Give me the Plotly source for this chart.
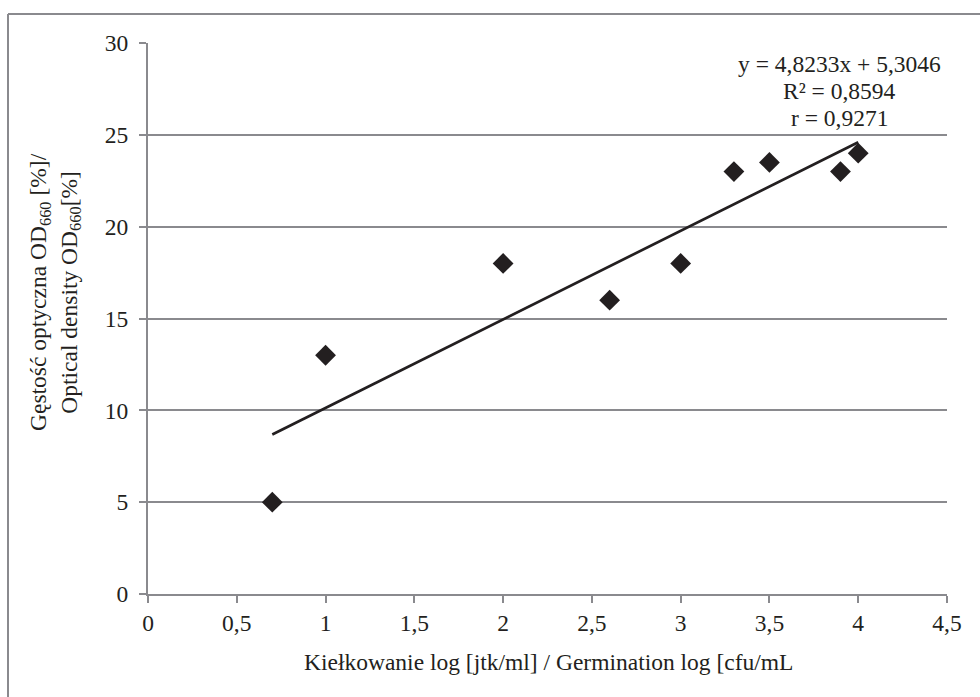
import plotly.graph_objects as go

# Germination (log cfu/mL) vs optical density OD660 (%)
germination_log = [0.7, 1.0, 2.0, 2.6, 3.0, 3.3, 3.5, 3.9, 4.0]
optical_density = [5, 13, 18, 16, 18, 23, 23.5, 23, 24]

# Linear fit reported on the chart
slope = 4.8233
intercept = 5.3046
r_squared = 0.8594
r_value = 0.9271

x_ticks = [0, 0.5, 1, 1.5, 2, 2.5, 3, 3.5, 4, 4.5]
x_tick_labels = ["0", "0,5", "1", "1,5", "2", "2,5", "3", "3,5", "4", "4,5"]
y_ticks = [0, 5, 10, 15, 20, 25, 30]

FONT = "Times New Roman, Liberation Serif, DejaVu Serif, serif"
GRID = "#8a8a8e"
INK = "#231f20"
FS = 23.5

x_fit = [min(germination_log), max(germination_log)]
y_fit = [slope * v + intercept for v in x_fit]


def pl(v, d=4):
    return f"{v:.{d}f}".replace(".", ",")


fig = go.Figure()
fig.add_trace(go.Scatter(
    x=germination_log, y=optical_density, mode="markers",
    marker=dict(symbol="diamond", size=16, color=INK, line=dict(width=0)),
    showlegend=False, hoverinfo="x+y",
))
fig.add_trace(go.Scatter(
    x=x_fit, y=y_fit, mode="lines",
    line=dict(color=INK, width=2.7),
    showlegend=False, hoverinfo="skip",
))

L, R, T, B = 148, 33, 43, 103
W, H = 980, 697
pw, ph = W - L - R, H - T - B

def px_x(p):
    return (p - L) / pw

def px_y(p):
    return (H - B - p) / ph

# regression statistics, one line each
stat_lines = [
    f"y = {pl(slope)}x + {pl(intercept)}",
    f"R² = {pl(r_squared)}",
    f"r = {pl(r_value)}",
]
stat_annotations = [
    dict(xref="paper", yref="paper", x=px_x(839), y=px_y(64 + 27 * i),
         text=t, showarrow=False, xanchor="center", yanchor="middle",
         font=dict(family=FONT, size=FS, color=INK))
    for i, t in enumerate(stat_lines)
]

fig.update_layout(
    width=W, height=H,
    margin=dict(l=L, r=R, t=T, b=B),
    paper_bgcolor="white", plot_bgcolor="white",
    font=dict(family=FONT, size=FS, color=INK),
    xaxis=dict(
        range=[0, 4.5], tickvals=x_ticks, ticktext=x_tick_labels,
        showgrid=False, zeroline=False,
        showline=True, linecolor=GRID, linewidth=2,
        ticks="outside", ticklen=7, tickwidth=2, tickcolor=GRID,
        ticklabelstandoff=0,
        tickfont=dict(family=FONT, size=FS, color=INK),
    ),
    yaxis=dict(
        range=[0, 30], tickvals=y_ticks,
        showgrid=True, gridcolor=GRID, gridwidth=1.5,
        zeroline=False,
        showline=True, linecolor=GRID, linewidth=2,
        ticks="outside", ticklen=7, tickwidth=2, tickcolor=GRID,
        ticklabelstandoff=6,
        tickfont=dict(family=FONT, size=FS, color=INK),
    ),
    shapes=[
        dict(type="line", xref="paper", yref="paper",
             x0=px_x(8), x1=px_x(8), y0=px_y(14), y1=px_y(720),
             line=dict(color=GRID, width=2)),
        dict(type="line", xref="paper", yref="paper",
             x0=px_x(8), x1=px_x(1000), y0=px_y(14), y1=px_y(14),
             line=dict(color=GRID, width=2)),
    ],
    annotations=[
        dict(xref="paper", yref="paper", x=px_x(548), y=px_y(662),
             text="Kiełkowanie log [jtk/ml] / Germination log [cfu/mL",
             showarrow=False, xanchor="center", yanchor="middle",
             font=dict(family=FONT, size=FS, color=INK)),
        dict(xref="paper", yref="paper", x=px_x(55), y=px_y(292),
             text="Gęstość optyczna OD<sub>660</sub> [%]/<br>Optical density OD<sub>660</sub>[%]",
             textangle=-90, showarrow=False, xanchor="center", yanchor="middle",
             align="center",
             font=dict(family=FONT, size=FS, color=INK)),
    ] + stat_annotations,
)

fig.write_html("out.html")
